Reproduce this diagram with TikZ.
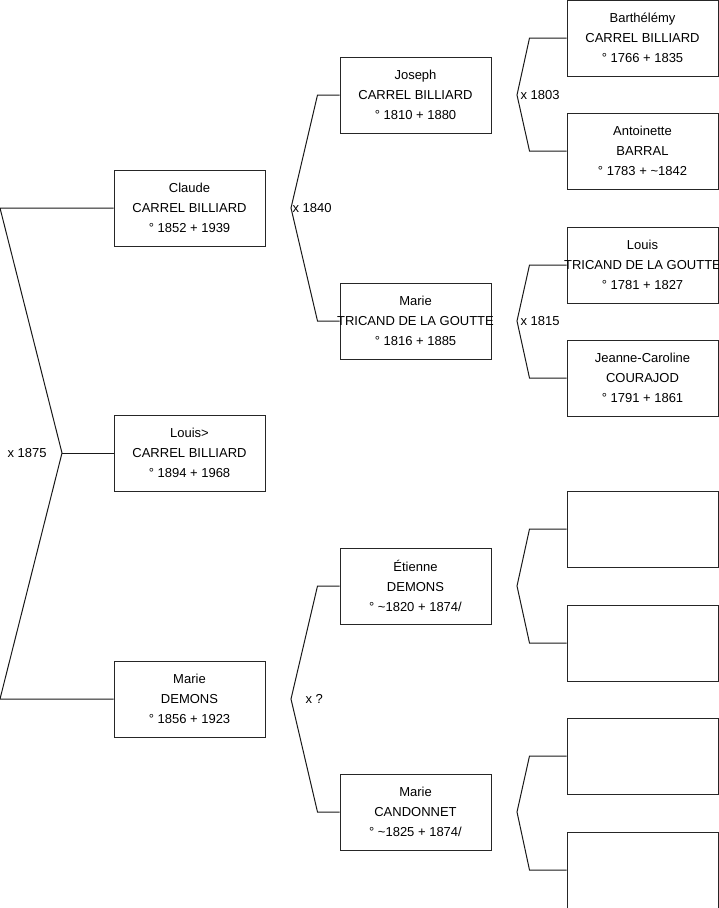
\documentclass[tikz,border=0pt]{standalone}
\usepackage{fontspec}
\setmainfont{Liberation Sans}
\usetikzlibrary{calc}
\newcommand{\ctr}[1]{\makebox[0pt]{#1}}
\newcommand{\pers}[3]{\ctr{#1}\\\ctr{#2}\\\ctr{#3}}
\begin{document}
\begin{tikzpicture}[x=1pt, y=-1pt, line width=1pt,
    person/.style={rectangle, draw=black!85, minimum width=151pt, minimum height=76pt,
                   inner sep=0pt, align=center, font=\fontsize{13}{20}\selectfont},
    mariage/.style={anchor=west, inner sep=0pt, font=\fontsize{13}{16}\selectfont},
    link/.style={draw=black!90}]
    \useasboundingbox (0,0) rectangle (719,908);

    % generation 1
    \node[person] (claude) at (189.5,208) {\pers{Claude}{CARREL BILLIARD}{° 1852 + 1939}};
    \node[person] (louis)  at (189.5,453) {\pers{Louis>}{CARREL BILLIARD}{° 1894 + 1968}};
    \node[person] (demons) at (189.5,699) {\pers{Marie}{DEMONS}{° 1856 + 1923}};
    % generation 2
    \node[person] (joseph)    at (415.5,95)  {\pers{Joseph}{CARREL BILLIARD}{° 1810 + 1880}};
    \node[person] (tricand)   at (415.5,321) {\pers{Marie}{TRICAND DE LA GOUTTE}{° 1816 + 1885}};
    \node[person] (etienne)   at (415.5,586) {\pers{Étienne}{DEMONS}{° \textasciitilde 1820 + 1874/}};
    \node[person] (candonnet) at (415.5,812) {\pers{Marie}{CANDONNET}{° \textasciitilde 1825 + 1874/}};
    % generation 3
    \node[person] (barthelemy) at (642.5,38)  {\pers{Barthélémy}{CARREL BILLIARD}{° 1766 + 1835}};
    \node[person] (antoinette) at (642.5,151) {\pers{Antoinette}{BARRAL}{° 1783 + \textasciitilde 1842}};
    \node[person] (ltricand)   at (642.5,265) {\pers{Louis}{TRICAND DE LA GOUTTE}{° 1781 + 1827}};
    \node[person] (courajod)   at (642.5,378) {\pers{Jeanne-Caroline}{COURAJOD}{° 1791 + 1861}};
    \node[person] (inconnu1)   at (642.5,529) {};
    \node[person] (inconnu2)   at (642.5,643) {};
    \node[person] (inconnu3)   at (642.5,756) {};
    \node[person] (inconnu4)   at (642.5,870) {};

    % root bracket
    \coordinate (root1) at (0,208);
    \coordinate (root2) at (0,699);
    \coordinate (xroot) at (62,453);
    \draw[link] (claude.west) -- (root1) -- (xroot) -- (root2) -- (demons.west);
    \draw[link] (xroot) -- (louis.west);
    \node[mariage] (mroot) at (7,453) {x 1875};

    % parents brackets
    \foreach \c/\f/\m/\g in {claude/joseph/tricand/22, demons/etienne/candonnet/22,
                             joseph/barthelemy/antoinette/37, tricand/ltricand/courajod/37,
                             etienne/inconnu1/inconnu2/37, candonnet/inconnu3/inconnu4/37}{
        \coordinate (x\c) at ($(\c.east)+(25.5,0)$);
        \draw[link] (\f.west) -- ++(-\g,0) -- (x\c) -- ($(\m.west)+(-\g,0)$) -- (\m.west);
    }

    % marriages
    \node[mariage] (mclaude)  at ($(xclaude)+(1,0)$)  {x 1840};
    \node[mariage] (mdemons)  at ($(xdemons)+(14,0)$) {x ?};
    \node[mariage] (mjoseph)  at ($(xjoseph)+(3,0)$)  {x 1803};
    \node[mariage] (mtricand) at ($(xtricand)+(3,0)$) {x 1815};
\end{tikzpicture}
\end{document}
